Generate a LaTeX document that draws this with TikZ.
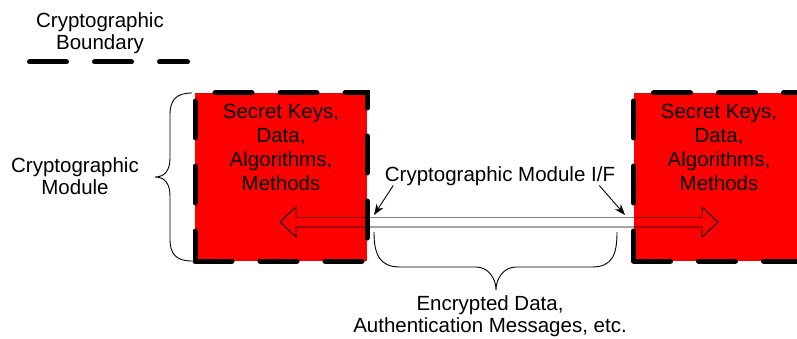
\documentclass[tikz,border=0pt]{standalone}
\usepackage{fontspec}
\setmainfont{Liberation Sans}
\usetikzlibrary{arrows.meta}
\begin{document}
\begin{tikzpicture}[x=1pt,y=-1pt,
  txt/.style={font=\fontsize{20.5}{24}\selectfont, align=center, inner sep=0pt},
  txtb/.style={font=\fontsize{20.5}{22.5}\selectfont, align=center, inner sep=0pt},
  bnd/.style={line width=5pt, line cap=round, dash pattern=on 37pt off 28pt},
  modbox/.style={fill=red, draw=black, bnd, minimum width=172pt, minimum height=168pt, inner sep=0pt},
  fineline/.style={line width=0.9pt},
  ptr/.style={line width=0.9pt, -{Stealth[length=11pt,width=8pt]}},
]
\useasboundingbox (0,0) rectangle (797,339);
\clip (0,0) rectangle (797,339);

% legend
\node[txtb] (legend) at (100,33) {Cryptographic\\Boundary};
\coordinate (bs) at (29.5,62);
\coordinate (be) at (187.5,62);
\draw[bnd] (bs) -- (be);

% module boxes
\node[modbox] (lbox) at (281,177) {};
\node[modbox] (rbox) at (719.5,177) {};

% double hollow arrow
\draw[fineline] (296,217) -- (296,207) -- (280,222) -- (296,237) -- (296,227)
  -- (702,227) -- (702,237) -- (718,222) -- (702,207) -- (702,217);
\draw[fineline, draw opacity=0.5] (296,217) -- (702,217);

% box texts
\node[txt] (lkeys) at (281,147) {Secret Keys,\\Data,\\Algorithms,\\Methods};
\node[txt] (rkeys) at (719,147) {Secret Keys,\\Data,\\Algorithms,\\Methods};

% left brace and label
\draw[fineline] (192,93) .. controls (176,93) and (170,100) .. (170,115) -- (170,158)
  .. controls (170,170) and (165,177) .. (155,177)
  .. controls (165,177) and (170,184) .. (170,196) -- (170,239)
  .. controls (170,254) and (176,261) .. (192,261);
\node[txtb] (cmlabel) at (75,176) {Cryptographic\\Module};

% interface label and pointers
\node[txt, anchor=base] (iflabel) at (500,182) {Cryptographic Module I/F};
\coordinate (ifa) at (374,215);
\coordinate (ifb) at (625,215);
\draw[ptr] ([shift={(8.5,-1)}]iflabel.south west) -- (ifa);
\draw[ptr] ([shift={(-16,-1)}]iflabel.south east) -- (ifb);

% bottom brace and label
\draw[fineline] (374,232) .. controls (374,255) and (380,267) .. (400,267) -- (476,267)
  .. controls (488,267) and (496,278) .. (496,290)
  .. controls (496,278) and (504,267) .. (516,267) -- (592,267)
  .. controls (612,267) and (617,255) .. (617,232);
\node[txtb] (enclabel) at (490,316) {Encrypted Data,\\Authentication Messages, etc.};
\end{tikzpicture}
\end{document}
